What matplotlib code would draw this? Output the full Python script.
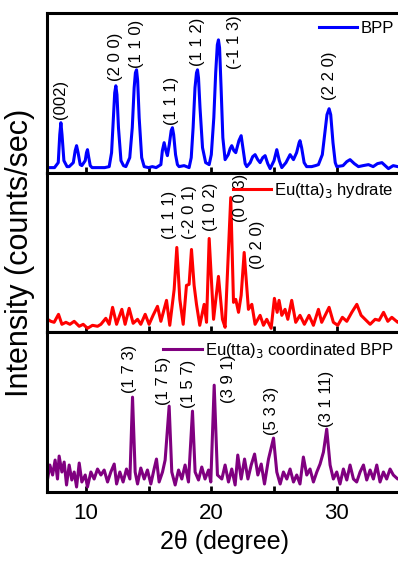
import matplotlib
matplotlib.use('Agg')
import matplotlib.pyplot as plt
from matplotlib.ticker import MultipleLocator

plt.rcParams['font.family'] = ['Liberation Sans', 'DejaVu Sans']

# BPP (top)
tt_bpp = [6.9, 7.5, 7.8, 7.92, 8.01, 8.1, 8.25, 8.5, 8.67, 9.0, 9.15, 9.26, 9.38, 9.55, 9.68,
          9.95, 10.05, 10.13, 10.22, 10.35, 10.5, 11.0, 11.5, 11.86, 12.05, 12.2, 12.3, 12.39,
          12.48, 12.6, 12.8, 13.0, 13.19, 13.5, 13.7, 13.85, 13.95, 14.04, 14.13, 14.25, 14.45,
          14.65, 15.0, 15.3, 15.6, 15.98, 16.1, 16.24, 16.38, 16.5, 16.65, 16.8, 16.9, 17.0,
          17.15, 17.3, 17.43, 17.83, 18.23, 18.4, 18.55, 18.7, 18.82, 18.9, 18.98, 19.1, 19.3,
          19.55, 19.83, 20.0, 20.2, 20.35, 20.48, 20.57, 20.66, 20.78, 20.92, 21.1, 21.35, 21.5,
          21.63, 21.8, 21.95, 22.2, 22.38, 22.55, 22.7, 22.83, 23.1, 23.3, 23.49, 23.7, 23.89,
          24.1, 24.29, 24.5, 24.69, 25.0, 25.22, 25.42, 25.62, 25.95, 26.28, 26.55, 26.8, 27.0,
          27.07, 27.2, 27.4, 27.6, 28.0, 28.3, 28.54, 28.85, 29.05, 29.22, 29.39, 29.52, 29.7,
          29.88, 30.0, 30.5, 30.8, 31.06, 31.4, 31.73, 32.1, 32.53, 32.9, 33.25, 33.6, 34.12,
          34.5, 34.86, 35.2]
int_bpp = [5, 5, 10, 38, 50, 38, 12, 6, 6, 10, 22, 27, 20, 8, 7,
           12, 20, 23, 16, 7, 5, 5, 5, 6, 20, 55, 80, 87,
           78, 45, 12, 7, 6, 15, 45, 85, 100, 103, 92, 55, 15,
           6, 5, 6, 5, 8, 22, 30, 22, 17, 28, 42, 45, 38,
           18, 8, 6, 7, 5, 15, 45, 85, 100, 103, 95, 65, 25,
           10, 8, 18, 55, 100, 128, 133, 125, 85, 35, 13, 18, 24,
           27, 22, 20, 32, 37, 22, 9, 6, 10, 16, 18, 13, 10,
           15, 17, 9, 4, 12, 23, 12, 5, 10, 18, 13, 20, 30,
           32, 25, 10, 6, 6, 7, 8, 18, 40, 58, 64, 58, 30,
           10, 6, 7, 11, 13, 9, 6, 7, 8, 6, 9, 10, 4,
           7, 6, 6]

# Eu(tta)3 hydrate (middle)
tt_hyd = [6.9, 6.95, 7.21, 7.47, 7.82, 8.09, 8.41, 8.73, 9.07, 9.47, 9.79, 10.13, 10.53, 10.93,
          11.2, 11.59, 11.86, 12.13, 12.45, 12.87, 13.13, 13.45, 13.77, 14.12, 14.38, 14.73,
          15.04, 15.36, 15.71, 15.98, 16.43, 16.69, 17.04, 17.25, 17.49, 17.76, 18.02, 18.23,
          18.42, 18.63, 18.82, 19.08, 19.43, 19.62, 19.83, 20.18, 20.57, 20.89, 21.1, 21.55,
          21.77, 21.95, 22.17, 22.38, 22.62, 22.96, 23.23, 23.49, 23.89, 24.16, 24.42, 24.77,
          25.03, 25.25, 25.4, 25.62, 25.88, 26.1, 26.41, 26.73, 27.07, 27.42, 27.79, 28.14,
          28.54, 28.8, 29.39, 29.73, 30.08, 30.45, 30.8, 31.2, 31.6, 31.94, 32.26, 32.66, 33.06,
          33.38, 33.73, 34.07, 34.39, 34.86, 35.2]
int_hyd = [12, 13, 11, 10, 18, 8, 10, 8, 11, 6, 8, 4, 7, 6,
           8, 14, 8, 25, 8, 23, 8, 24, 9, 13, 8, 18,
           8, 17, 26, 11, 32, 7, 43, 85, 33, 8, 47, 48,
           83, 47, 28, 7, 28, 10, 94, 13, 56, 13, 5, 135,
           30, 33, 20, 37, 80, 23, 28, 8, 17, 7, 13, 4,
           34, 20, 32, 17, 23, 13, 32, 10, 17, 8, 17, 7,
           23, 10, 25, 10, 7, 15, 11, 20, 28, 17, 13, 8, 13,
           12, 20, 11, 15, 10, 12]

# Eu(tta)3 coordinated BPP (bottom)
tt_coord = [6.9, 6.95, 7.13, 7.35, 7.55, 7.74, 7.87, 8.09, 8.27, 8.46, 8.67, 8.88, 9.07, 9.26,
            9.47, 9.68, 9.95, 10.13, 10.4, 10.66, 10.93, 11.2, 11.46, 11.73, 11.99, 12.26,
            12.45, 12.71, 12.97, 13.24, 13.51, 13.72, 13.93, 14.12, 14.38, 14.65, 14.91, 15.18,
            15.44, 15.63, 15.84, 16.11, 16.32, 16.64, 16.85, 17.12, 17.39, 17.65, 17.91, 18.18,
            18.5, 18.71, 18.98, 19.24, 19.5, 19.78, 19.96, 20.23, 20.49, 20.84, 21.1, 21.37,
            21.63, 21.9, 22.11, 22.38, 22.65, 22.92, 23.18, 23.45, 23.71, 23.98, 24.24, 24.56,
            24.96, 25.22, 25.49, 25.75, 26.02, 26.28, 26.55, 26.81, 27.07, 27.34, 27.61, 27.87,
            28.14, 28.41, 28.67, 28.94, 29.2, 29.47, 29.73, 30.0, 30.26, 30.53, 30.8, 31.06,
            31.33, 31.59, 31.86, 32.13, 32.39, 32.66, 32.92, 33.19, 33.45, 33.72, 33.98, 34.25,
            34.51, 34.86, 35.2]
int_coord = [12, 13, 27, 17, 32, 13, 36, 20, 30, 7, 27, 12, 20, 5,
             29, 10, 17, 5, 20, 13, 23, 17, 22, 10, 20, 28,
             8, 20, 10, 23, 13, 95, 20, 8, 24, 13, 22, 8,
             23, 33, 10, 20, 32, 86, 20, 7, 22, 13, 27, 10,
             81, 20, 12, 25, 13, 22, 10, 107, 17, 13, 27, 10,
             23, 7, 37, 13, 33, 13, 27, 38, 17, 28, 8, 33,
             54, 20, 8, 20, 13, 23, 10, 17, 8, 35, 17, 23,
             10, 20, 28, 40, 63, 27, 13, 20, 8, 23, 12, 27,
             13, 10, 20, 27, 12, 22, 13, 27, 10, 20, 13, 23,
             17, 13, 15]

# peak (hkl) labels: text, 2theta, height of label base
hkl_bpp = ['(002)', '(2 0 0)', '(1 1 0)', '(1 1 1)', '(1 1 2)', '(-1 1 3)', '(2 2 0)']
hkl_bpp_x = [8.01, 12.39, 14.04, 16.85, 18.9, 21.82, 29.39]
hkl_bpp_y = [54, 92, 105, 48, 107, 104, 73]

hkl_hyd = ['(1 1 1)', '(-2 0 1)', '(1 0 2)', '(0 0 3)', '(0 2 0)']
hkl_hyd_x = [16.69, 18.29, 19.96, 22.31, 23.71]
hkl_hyd_y = [93, 93, 101, 111, 63]

hkl_coord = ['(1 7 3)', '(1 7 5)', '(1 5 7)', '(3 9 1)', '(5 3 3)', '(3 1 11)']
hkl_coord_x = [13.51, 16.16, 18.15, 21.34, 24.8, 29.18]
hkl_coord_y = [99, 87, 84, 89, 57, 65]

series = [
    (tt_bpp, int_bpp, '#0000FF', 'BPP', hkl_bpp, hkl_bpp_x, hkl_bpp_y),
    (tt_hyd, int_hyd, '#FF0000', 'Eu(tta)$_3$ hydrate', hkl_hyd, hkl_hyd_x, hkl_hyd_y),
    (tt_coord, int_coord, '#800080', 'Eu(tta)$_3$ coordinated BPP', hkl_coord, hkl_coord_x, hkl_coord_y),
]

fig = plt.figure(figsize=(3.98, 5.62), dpi=100)
left, right, top, bottom = 0.118, 1.01, 0.977, 0.1246
h = (top - bottom) / 3

axes = []
for i, (x, y, col, lab, hkl, hx, hy) in enumerate(series):
    ax = fig.add_axes([left, top - (i + 1) * h, right - left, h])
    ax.plot(x, y, color=col, lw=2.2, label=lab)
    for t, px, py in zip(hkl, hx, hy):
        ax.text(px, py, t, rotation=90, ha='center', va='bottom', fontsize=12)
    ax.set_xlim(6.9, 35.2)
    ax.set_ylim(0, 160)
    ax.set_yticks([])
    ax.xaxis.set_major_locator(MultipleLocator(10))
    ax.xaxis.set_minor_locator(MultipleLocator(5))
    ax.tick_params(axis='x', which='both', direction='in', length=4, width=2, labelsize=16, pad=8)
    if i < 2:
        ax.tick_params(axis='x', labelbottom=False)
    for s in ax.spines.values():
        s.set_linewidth(2.2)
    ax.legend(loc='upper right', frameon=False, fontsize=12, handlelength=2.3,
              handletextpad=0.2, borderaxespad=0.3, borderpad=0.2)
    axes.append(ax)

axes[2].set_xlabel('2θ (degree)', fontsize=18, labelpad=4)
fig.text(0.05, (top + bottom) / 2, 'Intensity (counts/sec)', rotation=90,
         ha='center', va='center', fontsize=22)

fig.savefig('out.png', dpi=100)
